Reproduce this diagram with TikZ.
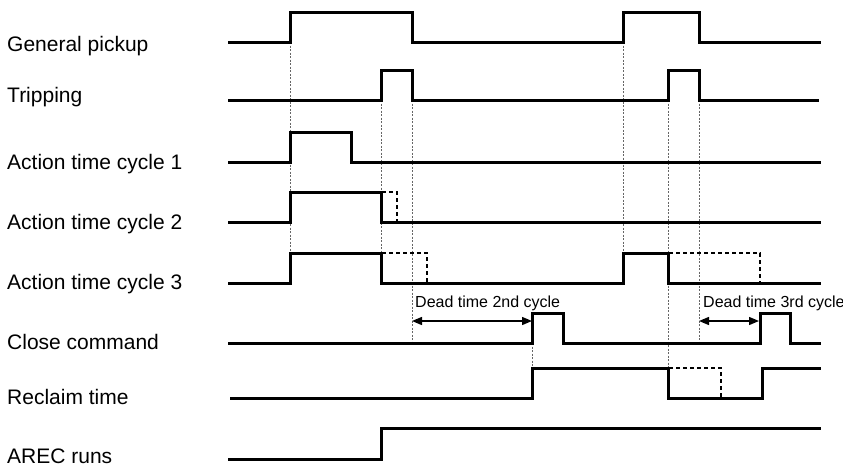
\documentclass[tikz,border=0pt]{standalone}
\usepackage{fontspec}
\setmainfont{Liberation Sans}
\usetikzlibrary{arrows.meta}
\begin{document}
\begin{tikzpicture}[x=1pt,y=-1pt,
  sig/.style={line width=3pt, line join=miter},
  ext/.style={line width=2.2pt, dash pattern=on 4pt off 3pt},
  guide/.style={black!60, line width=0.7pt, dash pattern=on 2pt off 1.5pt},
  lab/.style={anchor=base west, font=\fontsize{21}{24}\selectfont, inner sep=0pt},
  dlab/.style={anchor=base west, font=\fontsize{16}{19}\selectfont, inner sep=0pt},
  dimarrow/.style={line width=1.4pt, {Triangle[length=10pt,width=8pt]}-{Triangle[length=10pt,width=8pt]}}]
\useasboundingbox (0,0) rectangle (843,469);

% labels
\node[lab] (lgp) at (7,51) {General pickup};
\node[lab] (ltr) at (7,102.7) {Tripping};
\node[lab] (lc1) at (7,169) {Action time cycle 1};
\node[lab] (lc2) at (7,229) {Action time cycle 2};
\node[lab] (lc3) at (7,289) {Action time cycle 3};
\node[lab] (lcc) at (7,349) {Close command};
\node[lab] (lrt) at (7,404) {Reclaim time};
\node[lab] (lar) at (7,463) {AREC runs};

% guide lines
\draw[guide] (290,42) -- (290,283);
\draw[guide] (381,100) -- (381,283);
\draw[guide] (412,100) -- (412,343);
\draw[guide] (532,343) -- (532,368);
\draw[guide] (623,42) -- (623,283);
\draw[guide] (668,100) -- (668,368);
\draw[guide] (699,100) -- (699,343);

% signals
\draw[sig] (228,42) -- (290,42) -- (290,12) -- (412,12) -- (412,42) -- (623,42) -- (623,12) -- (699,12) -- (699,42) -- (821,42);
\draw[sig] (228,100) -- (381,100) -- (381,70) -- (412,70) -- (412,100) -- (668,100) -- (668,70) -- (699,70) -- (699,100) -- (819,100);
\draw[sig] (228,162) -- (290,162) -- (290,132) -- (351,132) -- (351,162) -- (821,162);
\draw[sig] (228,222) -- (290,222) -- (290,192) -- (381,192) -- (381,222) -- (821,222);
\draw[ext] (382,192) -- (397,192) -- (397,222);
\draw[sig] (228,283) -- (290,283) -- (290,253) -- (381,253) -- (381,283) -- (623,283) -- (623,253) -- (668,253) -- (668,283) -- (821,283);
\draw[ext] (382,253) -- (427,253) -- (427,283);
\draw[ext] (669,253) -- (760,253) -- (760,283);
\draw[sig] (228,343) -- (532,343) -- (532,313) -- (563,313) -- (563,343) -- (760,343) -- (760,313) -- (790,313) -- (790,343) -- (821,343);
\draw[sig] (230,398) -- (532,398) -- (532,368) -- (668,368) -- (668,398) -- (762,398) -- (762,368) -- (821,368);
\draw[ext] (669,368) -- (721,368) -- (721,398);
\draw[sig] (228,459) -- (381,459) -- (381,428) -- (821,428);

% dead time annotations
\coordinate (d2a) at (412,321);
\coordinate (d2b) at (532,321);
\coordinate (d3a) at (699,321);
\coordinate (d3b) at (759,321);
\draw[dimarrow] (d2a) -- (d2b);
\draw[dimarrow] (d3a) -- (d3b);
\node[dlab] (t2) at (415,307) {Dead time 2nd cycle};
\node[dlab] (t3) at (703,307) {Dead time 3rd cycle};
\end{tikzpicture}
\end{document}
